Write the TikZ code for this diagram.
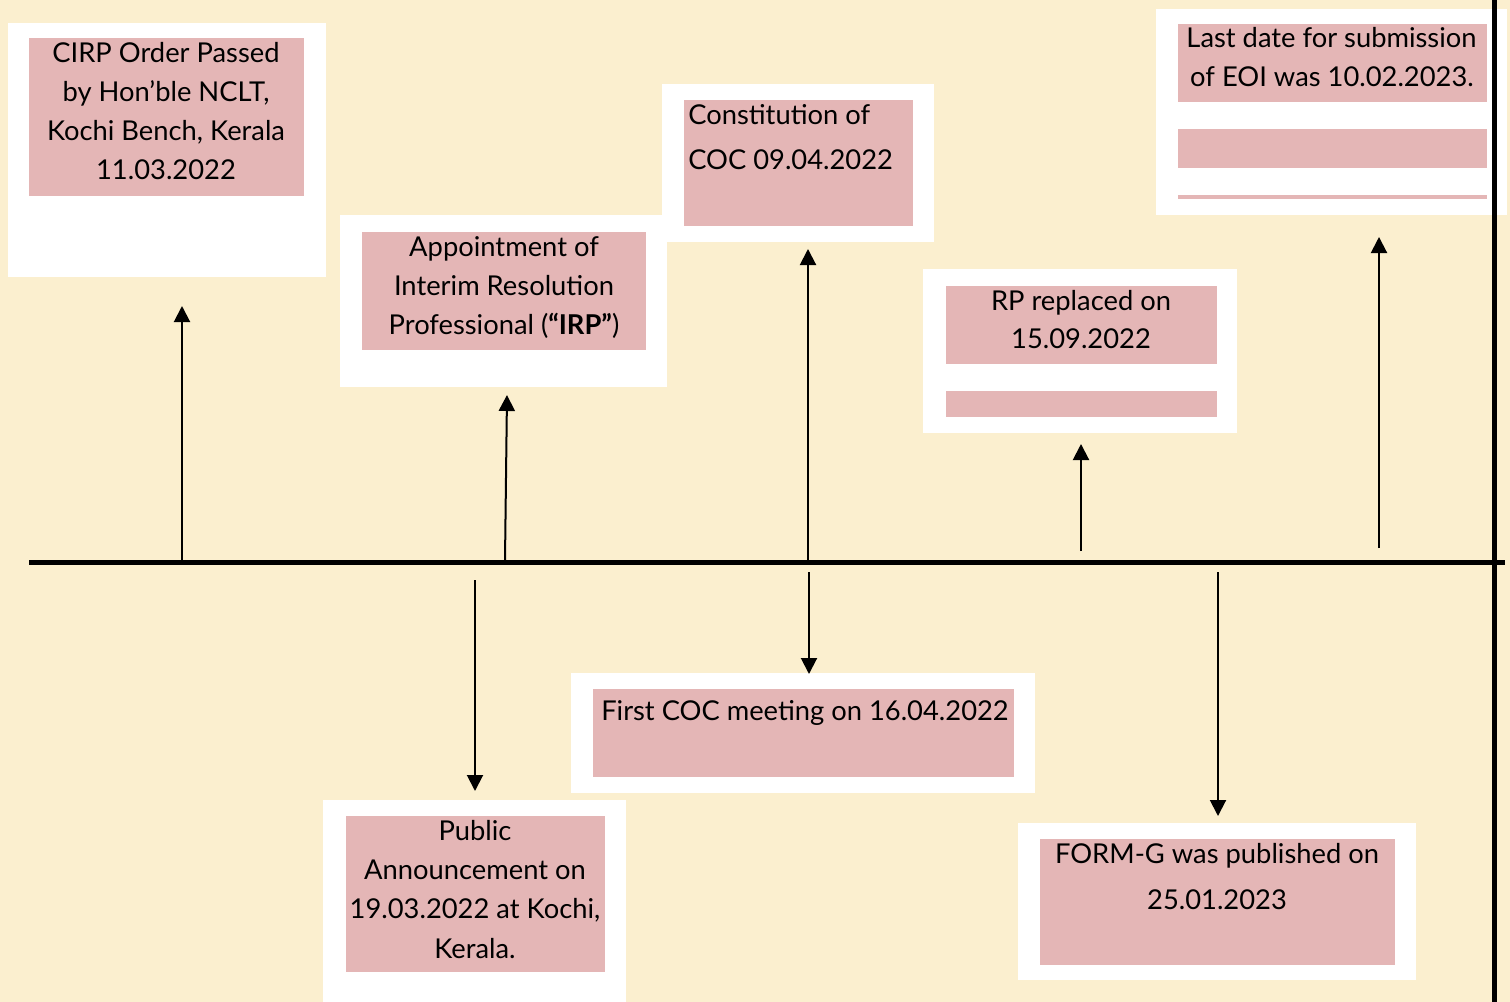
\documentclass[tikz,border=0pt]{standalone}
\usepackage{fontspec}
\setmainfont{Lato}
\usetikzlibrary{arrows.meta}
\definecolor{bg}{HTML}{FBEFCF}
\definecolor{pinkfill}{HTML}{E4B6B6}
\tikzset{
  wbox/.style={fill=white},
  pbox/.style={fill=pinkfill},
  txt/.style={inner sep=0pt, anchor=base, font=\fontsize{20.5}{24}\selectfont},
  txtl/.style={txt, anchor=base west},
  arr/.style={line width=1.5pt, -{Triangle[length=12pt,width=12pt]}},
  bigline/.style={line width=3.75pt}
}
\begin{document}
\begin{tikzpicture}[x=0.75pt,y=-0.75pt]
\fill[bg] (0,0) rectangle (1510,1002);
\useasboundingbox (0,0) rectangle (1510,1002);

% --- Box A: CIRP order
\fill[wbox] (8,23) rectangle (326,277);
\fill[pbox] (29,38) rectangle (304,196);
\node[txt] (a1) at (166,62.5) {CIRP Order Passed};
\node[txt] (a2) at (166,101.5) {by Hon’ble NCLT,};
\node[txt] (a3) at (166,140.5) {Kochi Bench, Kerala};
\node[txt] (a4) at (166,179.5) {11.03.2022};

% --- Box B: Appointment of IRP
\fill[wbox] (340,215) rectangle (667,387);
\fill[pbox] (362,232) rectangle (646,350);
\node[txt] (b1) at (504,256.5) {Appointment of};
\node[txt] (b2) at (504,295.5) {Interim Resolution};
\node[txt] (b3) at (504,334) {Professional (\textbf{“IRP”})};

% --- Box C: Constitution of COC
\fill[wbox] (662,84) rectangle (934,242);
\fill[pbox] (684,100) rectangle (913,226);
\node[txtl] (c1) at (688,125) {Constitution of};
\node[txtl] (c2) at (688,170) {COC 09.04.2022};

% --- Box D: RP replaced
\fill[wbox] (923,269) rectangle (1237,433);
\fill[pbox] (946,286) rectangle (1217,364);
\fill[pbox] (946,391) rectangle (1217,417);
\node[txt] (d1) at (1081,310.5) {RP replaced on};
\node[txt] (d2) at (1081,348.5) {15.09.2022};

% --- Box E: Last date EOI
\fill[wbox] (1156,9) rectangle (1507,215);
\fill[pbox] (1178,24) rectangle (1487,102);
\fill[pbox] (1178,129) rectangle (1487,168);
\fill[pbox] (1178,195) rectangle (1487,199.5);
\node[txt] (e1) at (1331.5,48) {Last date for submission};
\node[txt] (e2) at (1332,87) {of EOI was 10.02.2023.};

% --- Box F: Public announcement
\fill[wbox] (323,800) rectangle (626,1002);
\fill[pbox] (346,816) rectangle (605,972);
\node[txt] (f1) at (475,840) {Public};
\node[txt] (f2) at (475,879.3) {Announcement on};
\node[txt] (f3) at (475,918.7) {19.03.2022 at Kochi,};
\node[txt] (f4) at (475,958) {Kerala.};

% --- Box G: First COC meeting
\fill[wbox] (571,673) rectangle (1035,793);
\fill[pbox] (593,689) rectangle (1014,777);
\node[txtl] (g1) at (601,720) {First COC meeting on 16.04.2022};

% --- Box H: FORM-G
\fill[wbox] (1018,823) rectangle (1416,980);
\fill[pbox] (1040,839) rectangle (1395,965);
\node[txt] (h1) at (1217,863) {FORM-G was published on};
\node[txt] (h2) at (1217,909) {25.01.2023};

% --- timeline
\coordinate (tl0) at (29,562);
\coordinate (tl1) at (1505,562);
\coordinate (vl0) at (1494,0);
\coordinate (vl1) at (1494,1002);
\draw[bigline] (tl0) -- (tl1);
\draw[bigline] (vl0) -- (vl1);

% --- arrows
\coordinate (ua0) at (182,560);  \coordinate (ua1) at (182,306);
\coordinate (ub0) at (505,560);  \coordinate (ub1) at (507,395);
\coordinate (uc0) at (808,560);  \coordinate (uc1) at (808,249);
\coordinate (ud0) at (1081,551); \coordinate (ud1) at (1081,444);
\coordinate (ue0) at (1379,548); \coordinate (ue1) at (1379,237);
\coordinate (df0) at (475,580);  \coordinate (df1) at (475,791);
\coordinate (dg0) at (809,572);  \coordinate (dg1) at (809,674);
\coordinate (dh0) at (1218,572); \coordinate (dh1) at (1218,816);
\draw[arr] (ua0) -- (ua1);
\draw[arr] (ub0) -- (ub1);
\draw[arr] (uc0) -- (uc1);
\draw[arr] (ud0) -- (ud1);
\draw[arr] (ue0) -- (ue1);
\draw[arr] (df0) -- (df1);
\draw[arr] (dg0) -- (dg1);
\draw[arr] (dh0) -- (dh1);
\end{tikzpicture}
\end{document}
